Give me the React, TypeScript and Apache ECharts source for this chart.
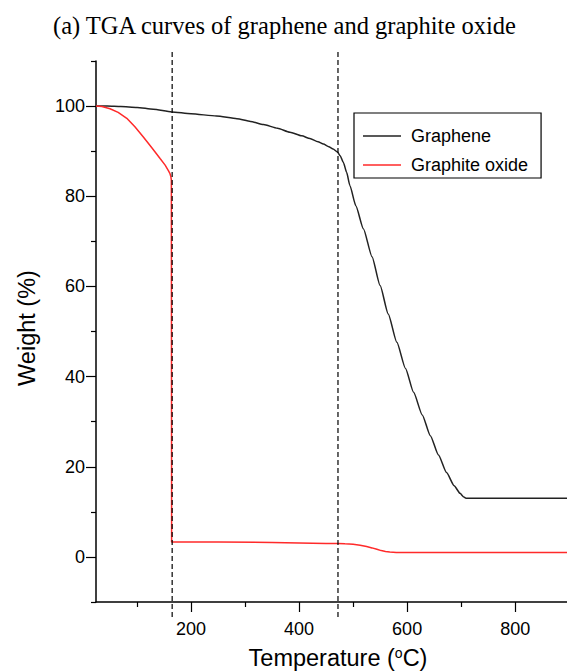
import React, { useEffect, useRef } from "react";
import * as echarts from "echarts";

const titleText = "(a) TGA curves of graphene and graphite oxide";
const xAxisTitle = "Temperature";
const yAxisTitle = "Weight (%)";
const seriesNames = ["Graphene", "Graphite oxide"];

const grapheneTemp = [24, 45, 70, 100, 130, 164, 200, 247, 285, 310, 334, 360, 383, 405, 420, 435, 445, 455, 463, 471, 476, 482, 488, 494, 505, 519, 535, 550, 565, 581, 597, 612, 628, 643, 658, 673, 687, 698, 705, 709, 750, 800, 850, 896];
const grapheneWeight = [100, 100, 99.9, 99.7, 99.3, 98.7, 98.3, 97.8, 97.2, 96.6, 95.9, 95.1, 94.2, 93.4, 92.8, 92.1, 91.6, 91.0, 90.5, 89.8, 89.0, 87.5, 85.3, 82.4, 77.9, 72.8, 66.6, 60.2, 53.9, 47.6, 41.8, 36.5, 31.5, 26.9, 22.6, 18.7, 15.8, 14.1, 13.3, 13.0, 13.0, 13.0, 13.0, 13.0];

const oxideTemp = [24, 35, 50, 65, 81, 96, 112, 127, 143, 152, 158, 161, 162.5, 163.5, 164, 175, 250, 350, 450, 472, 485, 500, 513, 525, 535, 544, 552, 560, 568, 580, 600, 700, 800, 896];
const oxideWeight = [100, 99.9, 99.4, 98.6, 97.3, 95.4, 93.1, 90.8, 88.3, 86.9, 85.7, 85.0, 84.4, 83.6, 3.3, 3.3, 3.3, 3.2, 3.0, 3.0, 2.9, 2.8, 2.6, 2.3, 2.0, 1.7, 1.4, 1.2, 1.1, 1.0, 1.0, 1.0, 1.0, 1.0];

const dashedTemps = [165, 472];

const xMajorValues = [200, 400, 600, 800];
const xMinorValues = [100, 300, 500, 700];
const yMajorValues = [0, 20, 40, 60, 80, 100];
const yMinorValues = [-10, 10, 30, 50, 70, 90, 110];

const SANS = "'Liberation Sans', Arial, Helvetica, sans-serif";
const SERIF = "'Liberation Serif', 'Times New Roman', serif";

export default function App() {
  const ref = useRef<HTMLDivElement>(null);

  useEffect(() => {
    document.body.style.margin = "0";
    if (!ref.current) return;
    const chart = echarts.init(ref.current, null, { renderer: "svg" });
    const axisLine = { show: true, onZero: false, lineStyle: { color: "#000", width: 1.5 } };
    const tickStyle = { color: "#000", width: 1.2 };
    const labelStyle = { fontFamily: SANS, fontSize: 18, color: "#000" };
    const option: any = {
      animation: false,
      backgroundColor: "#fff",
      title: {
        text: titleText,
        left: 53,
        top: 13,
        padding: 0,
        textStyle: { fontFamily: SERIF, fontSize: 24.5, fontWeight: "normal", color: "#000" },
      },
      grid: { left: 96, right: 0, top: 61, bottom: 69, containLabel: false },
      legend: {
        data: seriesNames,
        orient: "vertical",
        icon: "path://M0,0h38v1.5h-38z",
        symbolKeepAspect: true,
        left: 354,
        top: 113,
        borderColor: "#000",
        borderWidth: 1.2,
        padding: [14, 13, 4, 9],
        itemWidth: 38,
        itemHeight: 18,
        itemGap: 11,
        textStyle: { fontFamily: SANS, fontSize: 18, color: "#000", lineHeight: 18, padding: [0, 0, 0, 5] },
      },
      xAxis: [
        {
          type: "value",
          min: 24,
          max: 896,
          axisLine,
          splitLine: { show: false },
          axisTick: { show: true, length: 10, customValues: xMajorValues, lineStyle: tickStyle },
          axisLabel: { customValues: xMajorValues, margin: 18, ...labelStyle },
        },
        {
          type: "value",
          min: 24,
          max: 896,
          position: "bottom",
          axisLine: { show: false, onZero: false },
          splitLine: { show: false },
          axisTick: { show: true, length: 5, customValues: xMinorValues, lineStyle: tickStyle },
          axisLabel: { show: false },
        },
      ],
      yAxis: [
        {
          type: "value",
          min: -10,
          max: 110,
          position: "left",
          axisLine,
          splitLine: { show: false },
          axisTick: { show: true, length: 10, customValues: yMajorValues, lineStyle: tickStyle },
          axisLabel: { customValues: yMajorValues, margin: 11, ...labelStyle },
        },
        {
          type: "value",
          min: -10,
          max: 110,
          position: "left",
          axisLine: { show: false, onZero: false },
          splitLine: { show: false },
          axisTick: { show: true, length: 5, customValues: yMinorValues, lineStyle: tickStyle },
          axisLabel: { show: false },
        },
      ],
      series: [
        {
          name: seriesNames[0],
          type: "line",
          symbol: "none",
          smooth: 0.2,
          smoothMonotone: "x",
          color: "#222",
          lineStyle: { color: "#222", width: 1.5 },
          data: grapheneTemp.map((t, i) => [t, grapheneWeight[i]]),
        },
        {
          name: seriesNames[1],
          type: "line",
          symbol: "none",
          color: "#ff2a2a",
          lineStyle: { color: "#ff2a2a", width: 1.5 },
          data: oxideTemp.map((t, i) => [t, oxideWeight[i]]),
        },
      ],
    };
    chart.setOption(option);

    const dashed = dashedTemps.map((t) => {
      const px = chart.convertToPixel({ xAxisIndex: 0 }, t) as number;
      return {
        type: "line",
        shape: { x1: px, y1: 52, x2: px, y2: 620 },
        style: { stroke: "#000", lineWidth: 1.2, lineDash: [5, 3] },
        z: 10,
      };
    });

    chart.setOption({
      graphic: [
        ...dashed,
        {
          type: "text",
          x: 338,
          y: 658,
          style: {
            text: "{a|" + xAxisTitle + " (}{s|o}{a|C)}",
            align: "center",
            verticalAlign: "middle",
            rich: {
              a: { fontFamily: SANS, fontSize: 23.5, fill: "#000" },
              s: { fontFamily: SANS, fontSize: 14, fill: "#000", verticalAlign: "top", padding: [0, 0, 9, 0] },
            },
          },
        },
        {
          type: "text",
          x: 27,
          y: 328,
          rotation: Math.PI / 2,
          style: {
            text: yAxisTitle,
            fontFamily: SANS,
            fontSize: 23.5,
            fill: "#000",
            align: "center",
            verticalAlign: "middle",
          },
        },
      ],
    });

    return () => chart.dispose();
  }, []);

  return <div ref={ref} style={{ width: 567, height: 671 }} />;
}
